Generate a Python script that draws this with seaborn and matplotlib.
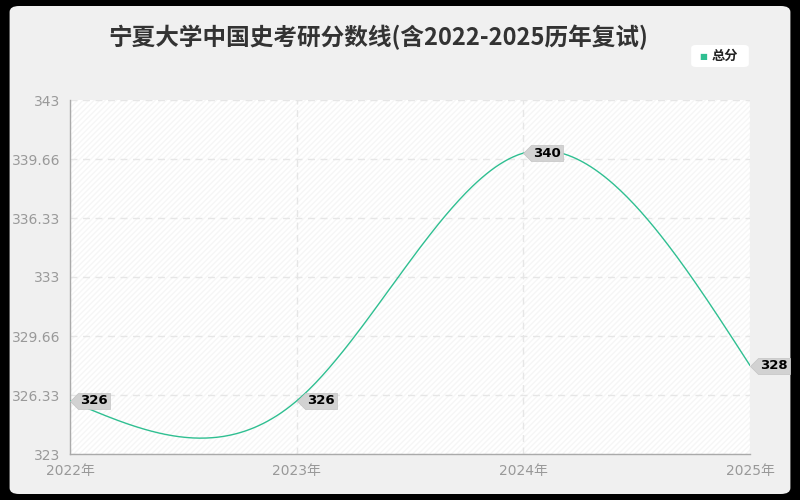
import numpy as np
import matplotlib
matplotlib.use("Agg")
import matplotlib.pyplot as plt
import seaborn as sns
from matplotlib.patches import FancyBboxPatch, Rectangle
from matplotlib.path import Path

years = [2022, 2023, 2024, 2025]
scores = [326, 326, 340, 328]
year_labels = ["2022年", "2023年", "2024年", "2025年"]
y_ticks = [323, 326.33, 329.66, 333, 336.33, 339.66, 343]
y_tick_labels = ["323", "326.33", "329.66", "333", "336.33", "339.66", "343"]
title = "宁夏大学中国史考研分数线(含2022-2025历年复试)"
series_name = "总分"

line_color = "#2fbf91"


def natural_spline(x, y, n=300):
    # smooth line through the points (natural cubic spline), for drawing only
    x = np.asarray(x, float)
    y = np.asarray(y, float)
    k = len(x)
    h = np.diff(x)
    A = np.zeros((k, k))
    b = np.zeros(k)
    A[0, 0] = A[-1, -1] = 1
    for i in range(1, k - 1):
        A[i, i - 1] = h[i - 1]
        A[i, i] = 2 * (h[i - 1] + h[i])
        A[i, i + 1] = h[i]
        b[i] = 6 * ((y[i + 1] - y[i]) / h[i] - (y[i] - y[i - 1]) / h[i - 1])
    M = np.linalg.solve(A, b)
    xs = np.linspace(x[0], x[-1], n)
    ys = np.empty_like(xs)
    for j, xv in enumerate(xs):
        i = min(np.searchsorted(x, xv, side="right") - 1, k - 2)
        t = (xv - x[i]) / h[i]
        ys[j] = (y[i] * (1 - t) + y[i + 1] * t
                 + ((1 - t) ** 3 - (1 - t)) * M[i] * h[i] ** 2 / 6
                 + (t ** 3 - t) * M[i + 1] * h[i] ** 2 / 6)
    return xs, ys


sns.set_style("white")
plt.rcParams["font.family"] = ["DejaVu Sans", "Noto Sans CJK SC"]

fig = plt.figure(figsize=(8, 5), dpi=100)
fig.patch.set_facecolor("black")
fig.patches.append(FancyBboxPatch((0.012, 0.012), 0.976, 0.976,
                                  boxstyle="round,pad=0,rounding_size=0.012",
                                  transform=fig.transFigure, facecolor="#f0f0f0",
                                  edgecolor="none", zorder=-5))

ax = fig.add_axes([0.0875, 0.092, 0.85, 0.708])
ax.set_zorder(1)
ax.set_facecolor("white")
ax.add_patch(Rectangle((0, 0), 1, 1, transform=ax.transAxes, facecolor="white",
                       edgecolor="#f6f6f6", hatch="//////", linewidth=0, zorder=0))

xs, ys = natural_spline(years, scores)
sns.lineplot(x=xs, y=ys, ax=ax, color=line_color, linewidth=1, zorder=3,
             label=series_name, legend=False)

ax.set_xlim(2022, 2025)
ax.set_ylim(323, 343)
ax.set_xticks(years)
ax.set_xticklabels(year_labels)
ax.set_yticks(y_ticks)
ax.set_yticklabels(y_tick_labels)
ax.tick_params(axis="both", colors="#999999", labelsize=10, length=5, width=1)
ax.tick_params(axis="x", pad=2)
ax.tick_params(axis="y", pad=2)
for lab in ax.get_xticklabels() + ax.get_yticklabels():
    lab.set_color("#999999")

ax.grid(True, color="#e6e6e6", linestyle=(0, (5, 4)), linewidth=1)
for side in ["top", "right"]:
    ax.spines[side].set_visible(False)
for side in ["left", "bottom"]:
    ax.spines[side].set_color("#aaaaaa")
    ax.spines[side].set_linewidth(1)

# value tags: pointed box whose tip sits on the data point
tag = Path([(0, 0), (8, 8), (40, 8), (40, -8), (8, -8), (0, 0)],
           [Path.MOVETO] + [Path.LINETO] * 4 + [Path.CLOSEPOLY])
tag_size = (2 * 40 * 0.72) ** 2
ax.scatter(years, scores, marker=tag, s=tag_size, color="#d2d2d2",
           edgecolors="#c4c4c4", linewidths=0.5, zorder=4, clip_on=False)
for xv, yv in zip(years, scores):
    ax.annotate(str(yv), (xv, yv), xytext=(24 * 0.72, 0), textcoords="offset points",
                ha="center", va="center", fontsize=9.5, fontweight="bold",
                color="black", zorder=5, annotation_clip=False)

fig.text(0.473, 0.926, title, ha="center", va="center", fontsize=17,
         fontweight="bold", color="#333333", family=["Noto Sans CJK SC", "DejaVu Sans"])

# legend box
fig.patches.append(FancyBboxPatch((0.864, 0.866), 0.072, 0.044,
                                  boxstyle="round,pad=0,rounding_size=0.006",
                                  transform=fig.transFigure, facecolor="white",
                                  edgecolor="none", zorder=2))
fig.text(0.879, 0.888, "■", ha="center", va="center", fontsize=6,
         color=line_color, zorder=3)
fig.text(0.890, 0.888, series_name, ha="left", va="center", fontsize=9.5,
         fontweight="bold", color="#222222", zorder=3,
         family=["Noto Sans CJK SC", "DejaVu Sans"])

fig.savefig("out.png", dpi=100, facecolor=fig.get_facecolor())
